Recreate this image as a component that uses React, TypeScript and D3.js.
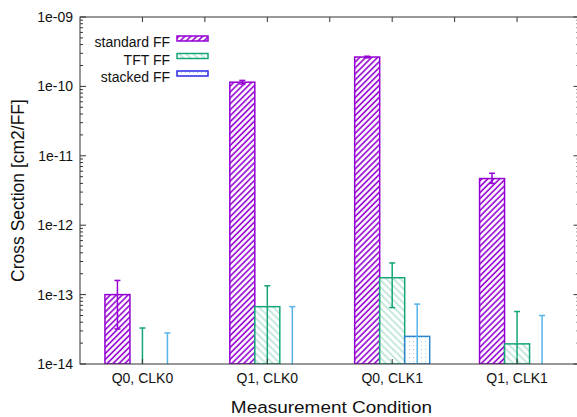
import React from "react";
import * as d3 from "d3";

// measurement conditions on the x axis
const categories = ["Q0, CLK0", "Q1, CLK0", "Q0, CLK1", "Q1, CLK1"];
const seriesNames = ["standard FF", "TFT FF", "stacked FF"];

// cross section values (0 = below plot range)
const standardFF = [1.0e-13, 1.15e-10, 2.65e-10, 4.7e-12];
const standardLo = [3.2e-14, 1.08e-10, 2.58e-10, 4.0e-12];
const standardHi = [1.6e-13, 1.22e-10, 2.72e-10, 5.6e-12];

const tftFF = [0, 6.7e-14, 1.75e-13, 1.95e-14];
const tftLo = [0, 0, 6.5e-14, 0];
const tftHi = [3.3e-14, 1.34e-13, 2.86e-13, 5.7e-14];

const stackedFF = [0, 0, 2.5e-14, 0];
const stackedLo = [0, 0, 0, 0];
const stackedHi = [2.8e-14, 6.7e-14, 7.3e-14, 5.0e-14];

const yTickValues = [1e-14, 1e-13, 1e-12, 1e-11, 1e-10, 1e-9];
const yTickLabels = ["1e-14", "1e-13", "1e-12", "1e-11", "1e-10", "1e-09"];

const W = 577;
const H = 417;
const plot = { left: 80, top: 17, right: 579.5, bottom: 364 };
const font = "'Liberation Sans', Arial, sans-serif";
const axisColor = "#333";

const series = [
  { name: seriesNames[0], vals: standardFF, lo: standardLo, hi: standardHi, stroke: "#9400d3", err: "#9400d3", fill: "url(#hatchPurple)" },
  { name: seriesNames[1], vals: tftFF, lo: tftLo, hi: tftHi, stroke: "#14a57a", err: "#14a57a", fill: "url(#hatchGreen)" },
  { name: seriesNames[2], vals: stackedFF, lo: stackedLo, hi: stackedHi, stroke: "#2d86cc", err: "#56b4e9", fill: "url(#dotsBlue)" },
];

const App = () => {
  const x = d3.scaleLinear().domain([-0.5, 3.5]).range([plot.left, plot.right]);
  const y = d3.scaleLog().domain([1e-14, 1e-9]).range([plot.bottom, plot.top]);
  const barW = 25;
  const clampY = (v: number) => (v <= 0 ? plot.bottom + 5 : y(v));

  const minorTicks = y.ticks().filter((t) => !yTickValues.some((m) => Math.abs(m - t) / m < 1e-6));
  const topTicks = d3.range(0, 4, 0.5);

  return (
    <svg width={W} height={H} style={{ position: "absolute", left: 0, top: 0 }} fontFamily={font}>
      <defs>
        <pattern id="hatchPurple" patternUnits="userSpaceOnUse" width={4.2} height={4.2} patternTransform="rotate(45)">
          <rect width={4.2} height={4.2} fill="#fff" />
          <line x1={1} y1={0} x2={1} y2={4.2} stroke="#9400d3" strokeWidth={1.6} />
        </pattern>
        <pattern id="hatchGreen" patternUnits="userSpaceOnUse" width={5} height={5} patternTransform="rotate(-45)">
          <rect width={5} height={5} fill="#fff" />
          <line x1={1} y1={0} x2={1} y2={5} stroke="#14a57a" strokeOpacity={0.55} strokeWidth={0.9} />
        </pattern>
        <pattern id="dotsBlue" patternUnits="userSpaceOnUse" width={4} height={4}>
          <rect width={4} height={4} fill="#fff" />
          <rect x={1} y={1} width={1} height={1} fill="#56b4e9" opacity={0.6} />
        </pattern>
        <clipPath id="plotClip">
          <rect x={plot.left} y={plot.top} width={plot.right - plot.left} height={plot.bottom - plot.top} />
        </clipPath>
      </defs>

      {/* bars */}
      <g clipPath="url(#plotClip)">
        {series.map((s, si) =>
          s.vals.map((v, i) => {
            if (v <= 0) return null;
            const cx = x(i) + (si - 1) * barW;
            return (
              <rect
                key={`b${si}-${i}`}
                x={cx - barW / 2}
                y={y(v)}
                width={barW}
                height={plot.bottom - y(v)}
                fill={s.fill}
                stroke={s.stroke}
                strokeWidth={1.5}
              />
            );
          })
        )}
        {/* error bars */}
        {series.map((s, si) =>
          s.hi.map((h, i) => {
            const cx = x(i) + (si - 1) * barW;
            const y1 = clampY(h);
            const y0 = clampY(s.lo[i]);
            return (
              <g key={`e${si}-${i}`} stroke={s.err} strokeWidth={1.5}>
                <line x1={cx} x2={cx} y1={y0} y2={y1} />
                <line x1={cx - 3} x2={cx + 3} y1={y1} y2={y1} />
                <line x1={cx - 3} x2={cx + 3} y1={y0} y2={y0} />
              </g>
            );
          })
        )}
      </g>

      {/* frame */}
      <rect x={plot.left} y={plot.top} width={plot.right - plot.left} height={plot.bottom - plot.top} fill="none" stroke={axisColor} strokeWidth={1} />

      {/* y ticks */}
      {yTickValues.map((t, i) => (
        <g key={`yt${i}`}>
          <line x1={plot.left} x2={plot.left + 6} y1={y(t)} y2={y(t)} stroke={axisColor} />
          <line x1={plot.right} x2={plot.right - 6} y1={y(t)} y2={y(t)} stroke={axisColor} />
          <text x={plot.left - 7} y={y(t) + 5} textAnchor="end" fontSize={14} fill="#111">
            {yTickLabels[i]}
          </text>
        </g>
      ))}
      {minorTicks.map((t, i) => (
        <g key={`ym${i}`}>
          <line x1={plot.left} x2={plot.left + 3} y1={y(t)} y2={y(t)} stroke={axisColor} />
          <line x1={plot.right} x2={plot.right - 3} y1={y(t)} y2={y(t)} stroke={axisColor} />
        </g>
      ))}

      {/* x ticks */}
      {topTicks.map((t) => (
        <line key={`xt${t}`} x1={x(t)} x2={x(t)} y1={plot.top} y2={plot.top + 5} stroke={axisColor} />
      ))}
      {categories.map((c, i) => (
        <g key={c}>
          <line x1={x(i)} x2={x(i)} y1={plot.bottom} y2={plot.bottom - 5} stroke={axisColor} />
          <text x={x(i)} y={plot.bottom + 19} textAnchor="middle" fontSize={14} fill="#111">
            {c}
          </text>
        </g>
      ))}

      {/* axis titles */}
      <text
        transform={`translate(331.5,413) scale(1.15,1)`}
        textAnchor="middle"
        fontSize={16.5}
        fill="#111"
      >
        Measurement Condition
      </text>
      <text
        transform={`translate(24,${(plot.top + plot.bottom) / 2}) rotate(-90)`}
        textAnchor="middle"
        fontSize={17.5}
        fill="#111"
      >
        Cross Section [cm2/FF]
      </text>

      {/* legend */}
      {series.map((s, i) => (
        <g key={s.name} transform={`translate(0,${i * 17.5})`}>
          <text x={170} y={47} textAnchor="end" fontSize={14} fill="#111">
            {s.name}
          </text>
          <rect x={177} y={36} width={31} height={5} fill={s.fill} stroke={i === 2 ? "#2a2ae8" : s.stroke} strokeWidth={1.5} />
        </g>
      ))}
    </svg>
  );
};

export default App;
